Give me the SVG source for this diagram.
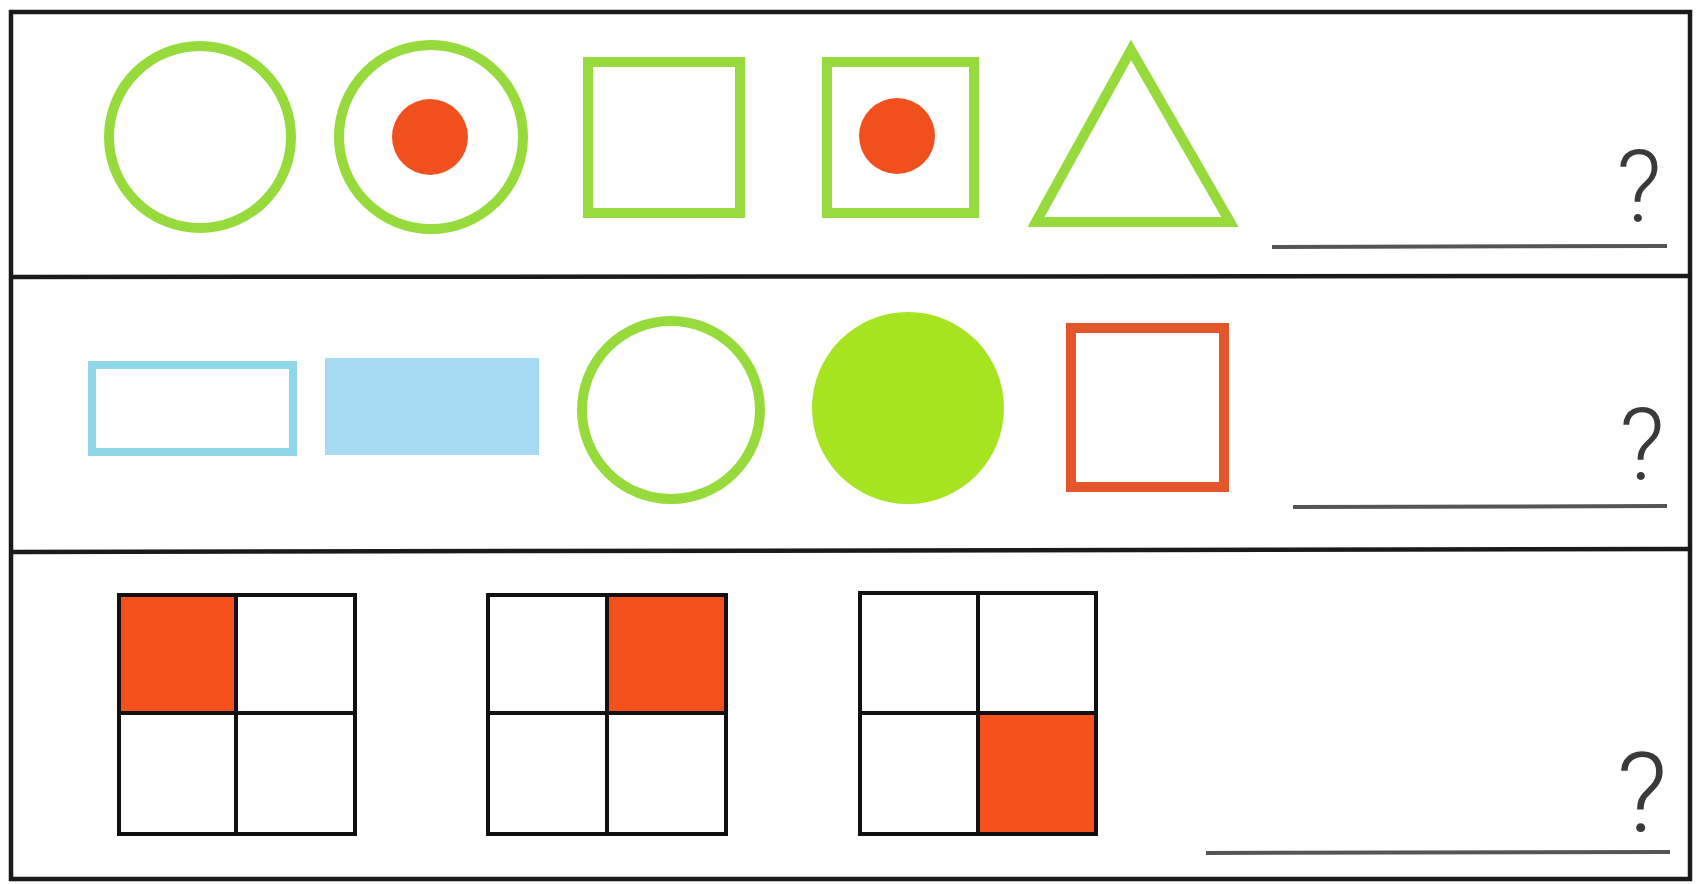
<svg xmlns="http://www.w3.org/2000/svg" width="1698" height="884" viewBox="0 0 1698 884">
<style>
.frame{fill:none;stroke:#1a1a1a;stroke-width:4.5}
.g{fill:none;stroke:#96da3c;stroke-width:10}
.dot{fill:#f0501e}
.blue{fill:none;stroke:#8fd6e6;stroke-width:8}
.bluef{fill:#a6dbf3}
.greenf{fill:#a6e320}
.red{fill:none;stroke:#e2562a;stroke-width:10}
.grid{fill:none;stroke:#111;stroke-width:4}
.cell{fill:#f4511c}
.ans{stroke:#555;stroke-width:4}
.q{font-family:Roboto,"Liberation Sans",sans-serif;font-weight:300;font-size:100px;fill:#3a3a3a;text-anchor:middle}
</style>
<rect width="1698" height="884" fill="#ffffff"/>
<g id="frame">
<rect class="frame" x="11" y="12" width="1679" height="867"/>
<line class="frame" x1="11" y1="277" x2="1690" y2="276"/>
<line class="frame" x1="11" y1="552" x2="1690" y2="549"/>
</g>
<g id="row1">
<g id="r1-circle"><circle class="g" cx="200" cy="137" r="91"/></g>
<g id="r1-circle-dot"><circle class="g" cx="431" cy="137" r="92"/><circle class="dot" cx="430" cy="137" r="38"/></g>
<g id="r1-square"><rect class="g" x="588" y="62" width="152" height="151"/></g>
<g id="r1-square-dot"><rect class="g" x="827" y="62" width="147" height="151"/><circle class="dot" cx="897" cy="136" r="38"/></g>
<g id="r1-triangle"><polygon class="g" points="1131,50 1036,222 1230,222"/></g>
<g id="r1-answer"><line class="ans" x1="1272" y1="247" x2="1667" y2="246"/><text class="q" x="1639" y="222">?</text></g>
</g>
<g id="row2">
<g id="r2-rect"><rect class="blue" x="92" y="365" width="201" height="87"/></g>
<g id="r2-rect-filled"><rect class="bluef" x="325" y="358" width="214" height="97"/></g>
<g id="r2-circle"><circle class="g" cx="671" cy="410" r="89"/></g>
<g id="r2-circle-filled"><circle class="greenf" cx="908" cy="408" r="96"/></g>
<g id="r2-square"><rect class="red" x="1071" y="328" width="153" height="159"/></g>
<g id="r2-answer"><line class="ans" x1="1293" y1="507" x2="1667" y2="506"/><text class="q" x="1642" y="480">?</text></g>
</g>
<g id="row3">
<g id="r3-grid1"><rect class="cell" x="119" y="595" width="117" height="118"/><rect class="grid" x="119" y="595" width="236" height="239"/><line class="grid" x1="236" y1="595" x2="236" y2="834"/><line class="grid" x1="119" y1="713" x2="355" y2="713"/></g>
<g id="r3-grid2"><rect class="cell" x="607" y="595" width="119" height="118"/><rect class="grid" x="488" y="595" width="238" height="239"/><line class="grid" x1="607" y1="595" x2="607" y2="834"/><line class="grid" x1="488" y1="713" x2="726" y2="713"/></g>
<g id="r3-grid3"><rect class="cell" x="978" y="713" width="118" height="121"/><rect class="grid" x="860" y="593" width="236" height="241"/><line class="grid" x1="978" y1="593" x2="978" y2="834"/><line class="grid" x1="860" y1="713" x2="1096" y2="713"/></g>
<g id="r3-answer"><line class="ans" x1="1206" y1="853" x2="1670" y2="852"/><text class="q" x="1642" y="832" style="font-size:112px">?</text></g>
</g>
</svg>
